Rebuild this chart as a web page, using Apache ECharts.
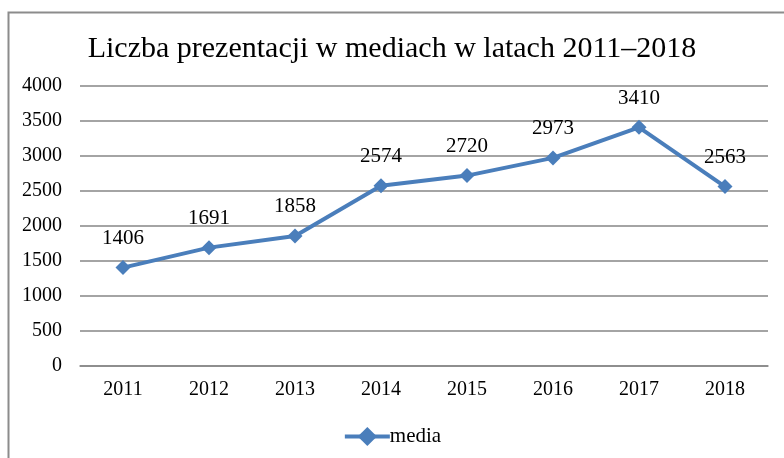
<!DOCTYPE html>
<html>
<head>
<meta charset="utf-8">
<script src="https://cdn.jsdelivr.net/npm/echarts@6/dist/echarts.min.js"></script>
<style>html,body{margin:0;padding:0;background:#fff}#c{width:784px;height:458px}</style>
</head>
<body>
<div id="c"></div>
<script>
var titleText = 'Liczba prezentacji w mediach w latach 2011–2018';
var categories = ['2011','2012','2013','2014','2015','2016','2017','2018'];
var seriesName = 'media';
var values = [1406, 1691, 1858, 2574, 2720, 2973, 3410, 2563];
var yMin = 0, yMax = 4000, yStep = 500;

var font = '"Liberation Serif", "Times New Roman", serif';
var chart = echarts.init(document.getElementById('c'), null, {renderer: 'canvas'});
chart.setOption({
  animation: false,
  backgroundColor: '#fff',
  graphic: [{
    type: 'rect', left: 6, top: 10, silent: true,
    shape: {width: 800, height: 470},
    style: {fill: 'none', stroke: '#8c8c8c', lineWidth: 2}
  }],
  title: {
    text: titleText, left: 'center', top: 29,
    textStyle: {fontFamily: font, fontSize: 30, fontWeight: 'normal', color: '#000'}
  },
  legend: {
    bottom: 6, left: 'center',
    itemWidth: 45, itemHeight: 24, itemGap: 10,
    lineStyle: {width: 4},
    textStyle: {fontFamily: font, fontSize: 21, color: '#000', padding: [0,0,0,-5]},
    data: [seriesName]
  },
  grid: {left: 80, right: 16, top: 86, bottom: 92, containLabel: false},
  xAxis: {
    type: 'category', data: categories, boundaryGap: true,
    axisLine: {lineStyle: {color: '#868686', width: 1.5}},
    axisTick: {show: false},
    axisLabel: {fontFamily: font, fontSize: 20, color: '#000', margin: 14}
  },
  yAxis: {
    type: 'value', min: yMin, max: yMax, interval: yStep,
    axisLine: {show: false}, axisTick: {show: false},
    splitLine: {lineStyle: {color: '#868686', width: 1.5}},
    axisLabel: {fontFamily: font, fontSize: 20, color: '#000', margin: 18,
      formatter: function (v) { return String(v); }}
  },
  series: [{
    name: seriesName, type: 'line', data: values,
    symbol: 'diamond', symbolSize: 15,
    lineStyle: {color: '#4a7ebb', width: 4},
    itemStyle: {color: '#4a7ebb'},
    label: {show: true, position: 'top', distance: 11,
      fontFamily: font, fontSize: 21, color: '#000'}
  }]
});
</script>
</body>
</html>
